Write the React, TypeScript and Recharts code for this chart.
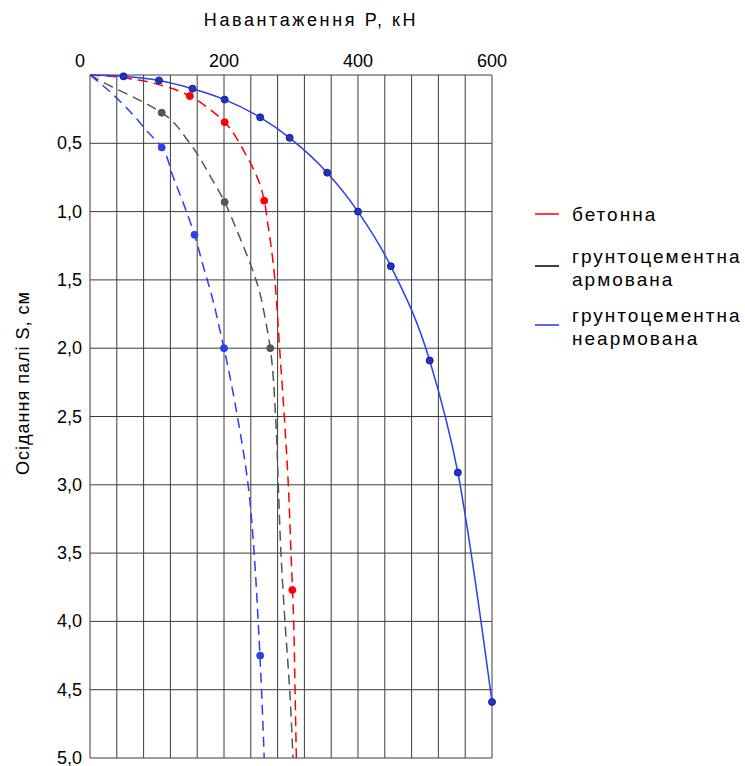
import { ComposedChart, Line, XAxis, YAxis, CartesianGrid, Label } from "recharts";

const FONT = '"Liberation Sans", Arial, sans-serif';

// axis ticks
const gridLoads = [0, 40, 80, 120, 160, 200, 240, 280, 320, 360, 400, 440, 480, 520, 560, 600];
const labelledLoads = [0, 200, 400, 600];
const settleTicks = [0, 0.5, 1, 1.5, 2, 2.5, 3, 3.5, 4, 4.5, 5];

// бетонна (red dashed trend + measured points)
const concreteCurveP = [0, 30, 72, 110, 149, 176, 201, 221, 229, 241, 254, 260, 266, 271, 276, 279, 283, 290, 296, 300, 304, 306, 308];
const concreteCurveS = [0, 0.01, 0.037, 0.08, 0.154, 0.24, 0.345, 0.48, 0.55, 0.66, 0.805, 0.92, 1.11, 1.28, 1.5, 1.7, 2.0, 2.5, 3.0, 3.5, 4.0, 4.5, 5.0];
const concretePointP = [149, 201, 260, 302];
const concretePointS = [0.154, 0.345, 0.92, 3.77];

// грунтоцементна армована (grey dashed)
const reinfCurveP = [0, 22, 47, 72, 107, 149, 180, 201, 219, 239, 251, 261, 269, 277, 281, 285, 291, 298, 303];
const reinfCurveS = [0, 0.06, 0.12, 0.18, 0.276, 0.5, 0.745, 0.93, 1.135, 1.38, 1.55, 1.77, 2.0, 2.5, 3.0, 3.5, 4.0, 4.5, 5.0];
const reinfPointP = [107, 201, 269];
const reinfPointS = [0.276, 0.93, 2.0];

// грунтоцементна неармована (blue dashed)
const plainCurveP = [0, 27, 62, 87, 107, 124, 144, 156, 169, 182, 194, 200, 220, 236, 245, 251, 256, 260];
const plainCurveS = [0, 0.11, 0.28, 0.42, 0.53, 0.745, 1.0, 1.17, 1.4, 1.62, 1.87, 2.0, 2.5, 3.0, 3.5, 4.0, 4.5, 5.0];
const plainPointP = [107, 156, 200, 254];
const plainPointS = [0.53, 1.17, 2.0, 4.25];

// blue solid curve
const solidP = [0, 50, 103, 153, 201, 254, 298, 354, 400, 449, 507, 549, 600];
const solidS = [0, 0.01, 0.04, 0.1, 0.18, 0.31, 0.46, 0.715, 1.0, 1.4, 2.09, 2.91, 4.59];

const legendItems = [
  { lines: ["бетонна"], color: "#ff0000" },
  { lines: ["грунтоцементна", "армована"], color: "#000000" },
  { lines: ["грунтоцементна", "неармована"], color: "#2233ee" },
];

function zip(ps: number[], ss: number[]) {
  return ps.map((p, i) => ({ p, s: ss[i] }));
}

function formatSettle(v: number): string {
  return v.toFixed(1).replace(".", ",");
}

function XTick(props: any) {
  const { x, y, payload } = props;
  if (!labelledLoads.includes(payload.value)) return <g />;
  const dx = payload.value === 0 ? -10 : 0;
  return (
    <text x={x + dx} y={y} textAnchor="middle" fontSize={18} fontFamily={FONT} fill="#000">
      {payload.value}
    </text>
  );
}

function YTick(props: any) {
  const { x, y, payload } = props;
  if (payload.value === 0) return <g />;
  return (
    <text x={x} y={y} dy={6} textAnchor="end" fontSize={18} fontFamily={FONT} fill="#000">
      {formatSettle(payload.value)}
    </text>
  );
}

function ChartLegend() {
  const rows = [
    { line: 19, text: [26] },
    { line: 71, text: [68, 91] },
    { line: 130, text: [127, 150] },
  ];
  return (
    <svg width={215} height={160} style={{ position: "absolute", left: 530, top: 195 }}>
      {legendItems.map((item, i) => (
        <g key={i}>
          <line x1={5} x2={29} y1={rows[i].line} y2={rows[i].line} stroke={item.color} strokeWidth={1.5} />
          {item.lines.map((t, j) => (
            <text key={j} x={42} y={rows[i].text[j]} fontSize={19} letterSpacing={2} fontFamily={FONT} fill="#000">
              {t}
            </text>
          ))}
        </g>
      ))}
    </svg>
  );
}

const dashed = { strokeWidth: 1.5, strokeDasharray: "10 6", dot: false, activeDot: false, isAnimationActive: false, legendType: "none" as const };

export default function App() {
  return (
    <div style={{ position: "absolute", left: 0, top: 0, width: 745, height: 766, background: "#fff" }}>
      <ComposedChart width={745} height={766} margin={{ top: 0, right: 253, bottom: 8, left: 0 }}>
        <CartesianGrid stroke="#3c3c3c" strokeWidth={1} />
        <XAxis
          type="number"
          dataKey="p"
          orientation="top"
          domain={[0, 600]}
          ticks={gridLoads}
          height={75}
          axisLine={false}
          tickLine={false}
          tick={<XTick />}
          interval={0}
        >
          <Label
            content={() => (
              <text x={311} y={26} textAnchor="middle" fontSize={18} letterSpacing={2.6} fontFamily={FONT} fill="#000">
                Навантаження P, кН
              </text>
            )}
          />
        </XAxis>
        <YAxis
          type="number"
          dataKey="s"
          domain={[0, 5]}
          reversed
          ticks={settleTicks}
          width={90}
          axisLine={false}
          tickLine={false}
          tick={<YTick />}
          interval={0}
        >
          <Label
            content={() => (
              <text
                x={23}
                y={383}
                transform="rotate(-90 23 383)"
                textAnchor="middle"
                dominantBaseline="central"
                fontSize={18}
                letterSpacing={1}
                fontFamily={FONT}
                fill="#000"
              >
                Осідання палі S, см
              </text>
            )}
          />
        </YAxis>

        <Line data={zip(reinfCurveP, reinfCurveS)} dataKey="s" type="monotoneY" stroke="#555" {...dashed} />
        <Line data={zip(concreteCurveP, concreteCurveS)} dataKey="s" type="monotoneY" stroke="#ff0000" {...dashed} />
        <Line data={zip(plainCurveP, plainCurveS)} dataKey="s" type="monotoneY" stroke="#2a3ff0" {...dashed} />
        <Line data={zip(solidP, solidS)} dataKey="s" type="monotone" stroke="#2a3ff0" strokeWidth={1.5} dot={false} activeDot={false} isAnimationActive={false} legendType="none" />

        <Line data={zip(reinfPointP, reinfPointS)} dataKey="s" stroke="none" dot={{ r: 3.5, fill: "#555", stroke: "#555", strokeWidth: 1 }} activeDot={false} isAnimationActive={false} legendType="none" />
        <Line data={zip(concretePointP, concretePointS)} dataKey="s" stroke="none" dot={{ r: 3.5, fill: "#ff0000", stroke: "#ff0000", strokeWidth: 1 }} activeDot={false} isAnimationActive={false} legendType="none" />
        <Line data={zip(plainPointP, plainPointS)} dataKey="s" stroke="none" dot={{ r: 3.5, fill: "#2a3ff0", stroke: "#2a3ff0", strokeWidth: 1 }} activeDot={false} isAnimationActive={false} legendType="none" />
        <Line data={zip(solidP.slice(1), solidS.slice(1))} dataKey="s" stroke="none" dot={{ r: 3.5, fill: "#2233cc", stroke: "#1a2288", strokeWidth: 1 }} activeDot={false} isAnimationActive={false} legendType="none" />
      </ComposedChart>
      <ChartLegend />
    </div>
  );
}
